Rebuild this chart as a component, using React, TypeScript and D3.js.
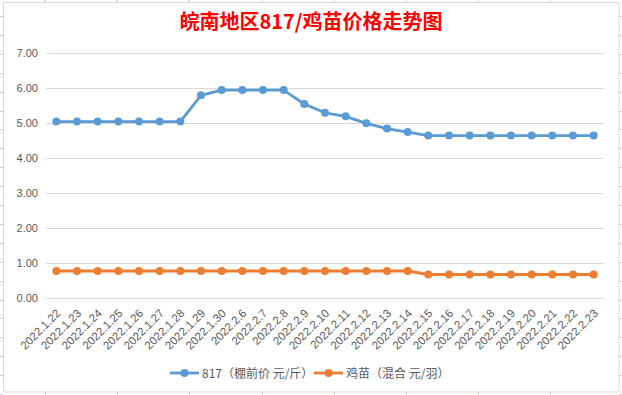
import React from "react";
import * as d3 from "d3";

const categories = [
  "2022.1.22", "2022.1.23", "2022.1.24", "2022.1.25", "2022.1.26", "2022.1.27", "2022.1.28", "2022.1.29", "2022.1.30",
  "2022.2.6", "2022.2.7", "2022.2.8", "2022.2.9", "2022.2.10", "2022.2.11", "2022.2.12", "2022.2.13", "2022.2.14",
  "2022.2.15", "2022.2.16", "2022.2.17", "2022.2.18", "2022.2.19", "2022.2.20", "2022.2.21", "2022.2.22", "2022.2.23",
];
const price817 = [
  5.05, 5.05, 5.05, 5.05, 5.05, 5.05, 5.05, 5.8, 5.95,
  5.95, 5.95, 5.95, 5.55, 5.3, 5.2, 5.0, 4.85, 4.75,
  4.65, 4.65, 4.65, 4.65, 4.65, 4.65, 4.65, 4.65, 4.65,
];
const chickPrice = [
  0.78, 0.78, 0.78, 0.78, 0.78, 0.78, 0.78, 0.78, 0.78,
  0.78, 0.78, 0.78, 0.78, 0.78, 0.78, 0.78, 0.78, 0.78,
  0.68, 0.68, 0.68, 0.68, 0.68, 0.68, 0.68, 0.68, 0.68,
];
const yTicks = [0, 1, 2, 3, 4, 5, 6, 7];
const seriesNames = ["817（棚前价 元/斤）", "鸡苗（混合 元/羽）"];
const title = "皖南地区817/鸡苗价格走势图";

const W = 622;
const H = 395;
const BLUE = "#5b9bd5";
const ORANGE = "#ed7d31";
const TEXT = "#595959";
const FONT = "'Noto Sans CJK SC', 'Liberation Sans', sans-serif";

export default function App() {
  const x = d3.scaleBand<string>().domain(categories).range([46, 604]);
  const y = d3.scaleLinear().domain([0, 7]).range([298.3, 53.3]);
  const cx = (c: string) => (x(c) as number) + x.bandwidth() / 2;
  const line = d3
    .line<number>()
    .x((_, i) => cx(categories[i]))
    .y((d) => y(d));

  const series = [
    { values: price817, color: BLUE },
    { values: chickPrice, color: ORANGE },
  ];

  const cellX = d3.range(45, 600, 72.2);
  const cellY = d3.range(16, 395, 18.9);

  return (
    <svg
      width={W}
      height={H}
      style={{ position: "absolute", left: 0, top: 0, background: "#fff" }}
      fontFamily={FONT}
    >
      {/* spreadsheet cell marks outside chart */}
      <g stroke="#c9cbe0" strokeWidth={1}>
        {cellX.map((v, i) => (
          <React.Fragment key={"cx" + i}>
            <line x1={Math.round(v) + 0.5} x2={Math.round(v) + 0.5} y1={0} y2={2} />
            <line x1={Math.round(v) + 0.5} x2={Math.round(v) + 0.5} y1={392} y2={395} />
          </React.Fragment>
        ))}
        {cellY.map((v, i) => (
          <React.Fragment key={"cy" + i}>
            <line x1={0} x2={3} y1={Math.round(v) + 0.5} y2={Math.round(v) + 0.5} />
            <line x1={619} x2={622} y1={Math.round(v) + 0.5} y2={Math.round(v) + 0.5} />
          </React.Fragment>
        ))}
      </g>
      <rect x={3.5} y={2.5} width={615.5} height={389.5} fill="#fff" stroke="#d9d9d9" strokeWidth={1} />

      <text
        x={311}
        y={29}
        textAnchor="middle"
        fill="#ff0000"
        fontWeight="bold"
        fontSize={20}
        fontFamily="'Noto Sans CJK SC', sans-serif"
      >
        {title}
      </text>

      {/* gridlines */}
      <g>
        {yTicks.map((t) => (
          <line
            key={t}
            x1={46}
            x2={604}
            y1={Math.round(y(t)) + 0.5}
            y2={Math.round(y(t)) + 0.5}
            stroke="#d9d9d9"
            strokeWidth={1}
          />
        ))}
      </g>
      <g fontSize={11} fill={TEXT} fontFamily="'Liberation Sans', sans-serif">
        {yTicks.map((t) => (
          <text key={t} x={38} y={y(t) + 4} textAnchor="end">
            {t.toFixed(2)}
          </text>
        ))}
      </g>

      <g fontSize={11.5} fill={TEXT} fontFamily="'Liberation Sans', sans-serif">
        {categories.map((c) => (
          <text
            key={c}
            textAnchor="end"
            transform={`translate(${cx(c) + 5},${314}) rotate(-45)`}
          >
            {c}
          </text>
        ))}
      </g>

      {series.map((s, si) => (
        <g key={si}>
          <path d={line(s.values) as string} fill="none" stroke={s.color} strokeWidth={2.8} strokeLinejoin="round" />
          {s.values.map((v, i) => (
            <circle key={i} cx={cx(categories[i])} cy={y(v)} r={4} fill={s.color} />
          ))}
        </g>
      ))}

      {/* legend */}
      <g fontSize={12} fill={TEXT}>
        {[
          { x0: 170, tx: 202, color: BLUE, name: seriesNames[0] },
          { x0: 314, tx: 346, color: ORANGE, name: seriesNames[1] },
        ].map((l, i) => (
          <g key={i}>
            <line x1={l.x0} x2={l.x0 + 29} y1={373} y2={373} stroke={l.color} strokeWidth={2.8} />
            <circle cx={l.x0 + 14.5} cy={373} r={4} fill={l.color} />
            <text x={l.tx} y={377.5}>
              {l.name}
            </text>
          </g>
        ))}
      </g>
    </svg>
  );
}
